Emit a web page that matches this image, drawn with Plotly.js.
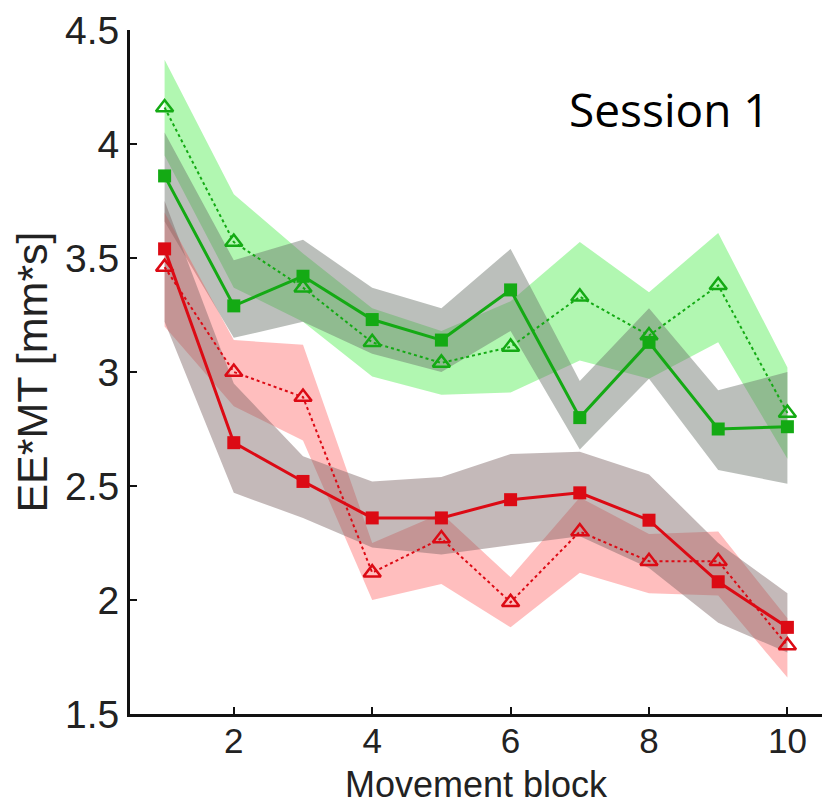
<!DOCTYPE html>
<html>
<head>
<meta charset="utf-8">
<script src="https://cdn.plot.ly/plotly-3.0.1.min.js"></script>
<style>body{margin:0;background:#fff}#chart{width:822px;height:804px}</style>
</head>
<body>
<div id="chart"></div>
<script>
const blocks = [1,2,3,4,5,6,7,8,9,10];
const xTicks = [2,4,6,8,10];
const yTicks = [1.5,2,2.5,3,3.5,4,4.5];
const yTickText = ['1.5','2','2.5','3','3.5','4','4.5'];

// Green, squares (solid)
const greenSq = [3.86,3.29,3.42,3.23,3.14,3.36,2.80,3.13,2.75,2.76];
const greenSqLo = [3.66,3.15,3.22,3.08,3.00,3.18,2.66,2.97,2.57,2.51];
const greenSqHi = [4.05,3.49,3.58,3.37,3.28,3.54,2.96,3.28,2.92,3.00];
// Green, triangles (dotted)
const greenTri = [4.16,3.57,3.37,3.13,3.04,3.11,3.33,3.16,3.38,2.82];
const greenTriLo = [3.95,3.37,3.22,2.98,2.90,2.91,3.05,2.97,3.13,2.62];
const greenTriHi = [4.37,3.78,3.52,3.28,3.18,3.31,3.57,3.35,3.61,3.02];
// Red, squares (solid)
const redSq = [3.54,2.69,2.52,2.36,2.36,2.44,2.47,2.35,2.08,1.88];
const redSqLo = [3.22,2.47,2.36,2.23,2.20,2.24,2.28,2.14,1.90,1.77];
const redSqHi = [3.75,2.95,2.63,2.52,2.54,2.64,2.65,2.55,2.25,2.03];
// Red, triangles (dotted)
const redTri = [3.46,3.00,2.89,2.12,2.27,1.99,2.30,2.17,2.17,1.80];
const redTriLo = [3.20,2.85,2.70,2.00,2.07,1.88,2.12,2.03,2.02,1.66];
const redTriHi = [3.70,3.14,3.12,2.25,2.38,2.10,2.45,2.29,2.30,1.92];

const GREEN = 'rgb(20,170,20)';
const RED = 'rgb(220,10,20)';

function band(lo, hi, color){
  return [
    {x: blocks, y: hi, mode:'lines', line:{width:0}, hoverinfo:'skip', showlegend:false},
    {x: blocks, y: lo, mode:'lines', line:{width:0}, fill:'tonexty', fillcolor:color, hoverinfo:'skip', showlegend:false}
  ];
}

const traces = [
  ...band(greenTriLo, greenTriHi, 'rgba(60,235,60,0.40)'),
  ...band(greenSqLo, greenSqHi, 'rgba(105,112,105,0.45)'),
  ...band(redTriLo, redTriHi, 'rgba(255,70,70,0.35)'),
  ...band(redSqLo, redSqHi, 'rgba(125,100,100,0.45)'),
  {x: blocks, y: greenTri, mode:'lines+markers', line:{color:GREEN, width:2, dash:'dot'},
   marker:{symbol:'triangle-up-open', size:15, color:GREEN, line:{width:2.5, color:GREEN}}, showlegend:false},
  {x: blocks, y: greenSq, mode:'lines+markers', line:{color:GREEN, width:3},
   marker:{symbol:'square', size:13, color:GREEN}, showlegend:false},
  {x: blocks, y: redTri, mode:'lines+markers', line:{color:RED, width:2, dash:'dot'},
   marker:{symbol:'triangle-up-open', size:15, color:RED, line:{width:2.5, color:RED}}, showlegend:false},
  {x: blocks, y: redSq, mode:'lines+markers', line:{color:RED, width:3},
   marker:{symbol:'square', size:13, color:RED}, showlegend:false}
];

const layout = {
  width: 822, height: 804,
  margin: {l:130, r:0, t:30, b:90},
  paper_bgcolor:'#fff', plot_bgcolor:'#fff',
  font: {family:'Liberation Sans, Arial, sans-serif', color:'#222'},
  xaxis: {
    range:[0.5,10.5], tickvals:xTicks, ticktext:xTicks.map(String),
    showgrid:false, zeroline:false, showline:true, linecolor:'#111', linewidth:3,
    ticks:'inside', ticklen:7, tickwidth:2, tickcolor:'#111',
    tickfont:{size:35, color:'#222'}, ticklabelstandoff:-6
  },
  yaxis: {
    range:[1.5,4.5], tickvals:yTicks, ticktext:yTickText,
    showgrid:false, zeroline:false, showline:true, linecolor:'#111', linewidth:3,
    ticks:'inside', ticklen:7, tickwidth:2, tickcolor:'#111',
    tickfont:{size:39, color:'#222'},
    title:{text:'EE*MT [mm*s]', font:{size:43, color:'#222'}, standoff:4}
  },
  annotations: [{
    text:'Session 1', x:0.78, y:0.885, xref:'paper', yref:'paper', xanchor:'center', yanchor:'middle',
    showarrow:false, font:{family:'Open Sans, Noto Sans, sans-serif', size:46, color:'#000'}
  },{
    text:'Movement block', x:0.5, y:0, xref:'paper', yref:'paper', xanchor:'center', yanchor:'bottom',
    yshift:-92, showarrow:false, borderpad:0, font:{size:36, color:'#222'}
  }]
};

Plotly.newPlot('chart', traces, layout, {staticPlot:true, displayModeBar:false});
</script>
</body>
</html>
